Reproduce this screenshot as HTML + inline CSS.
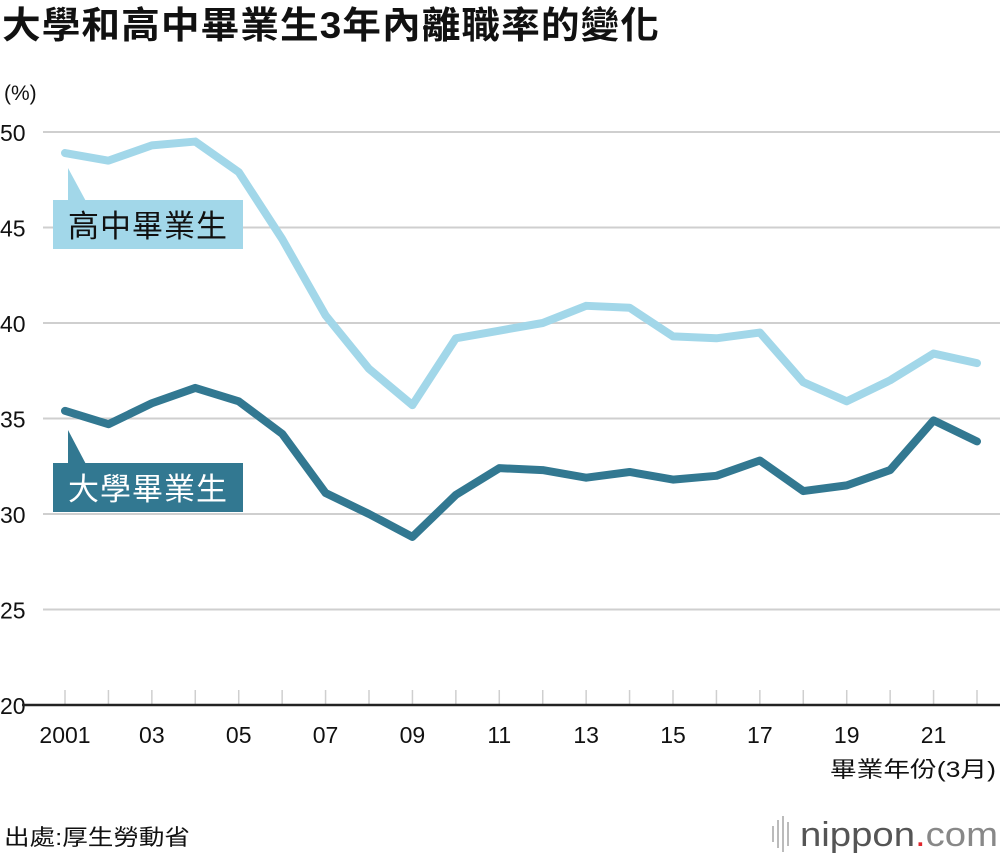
<!DOCTYPE html>
<html><head><meta charset="utf-8">
<style>
body{margin:0;background:#fff;}
svg text{font-family:"Liberation Sans","Noto Sans CJK TC",sans-serif;}
</style></head>
<body>
<svg width="1000" height="856" viewBox="0 0 1000 856" xmlns="http://www.w3.org/2000/svg" id="chart">
<text x="2" y="38" font-size="37" font-weight="bold" fill="#111" letter-spacing="1" textLength="658" lengthAdjust="spacingAndGlyphs">大學和高中畢業生3年內離職率的變化</text>
<text x="4" y="100" font-size="21" fill="#111">(%)</text>
<g id="grid"></g>
<g id="series"></g>
<g id="labels">
<polygon points="68,168 68,205 88,205" fill="#a2d7e9"/>
<rect x="53" y="200" width="190" height="49" fill="#a2d7e9"/>
<text x="68" y="237" font-size="31" fill="#111" letter-spacing="1">高中畢業生</text>
<polygon points="68,430 68,468 88,468" fill="#327891"/>
<rect x="53" y="463" width="190" height="49" fill="#327891"/>
<text x="68" y="500" font-size="31" fill="#fff" letter-spacing="1">大學畢業生</text>
</g>
<text x="996" y="777" font-size="22" fill="#111" text-anchor="end" textLength="166" lengthAdjust="spacingAndGlyphs">畢業年份(3月)</text>
<text x="4" y="845" font-size="22" fill="#111" textLength="186" lengthAdjust="spacingAndGlyphs">出處:厚生勞動省</text>
<g>
<rect x="772" y="826" width="2" height="16" fill="#bbb"/><rect x="777" y="820" width="2" height="28" fill="#bbb"/><rect x="782" y="816" width="2" height="36" fill="#bbb"/><rect x="787" y="822" width="2" height="24" fill="#bbb"/>
<text x="800" y="846" font-size="34" fill="#555" textLength="198" lengthAdjust="spacingAndGlyphs">nippon<tspan fill="#e0262d">.</tspan><tspan fill="#888">com</tspan></text>
</g>
</svg>
<script>
const years=[2001,2002,2003,2004,2005,2006,2007,2008,2009,2010,2011,2012,2013,2014,2015,2016,2017,2018,2019,2020,2021,2022];
const highSchool=[48.9,48.5,49.3,49.5,47.9,44.4,40.4,37.6,35.7,39.2,39.6,40.0,40.9,40.8,39.3,39.2,39.5,36.9,35.9,37.0,38.4,37.9];
const university=[35.4,34.7,35.8,36.6,35.9,34.2,31.1,30.0,28.8,31.0,32.4,32.3,31.9,32.2,31.8,32.0,32.8,31.2,31.5,32.3,34.9,33.8];
const yTicks=[20,25,30,35,40,45,50];
const xTickLabels=["2001","03","05","07","09","11","13","15","17","19","21"];
const NS="http://www.w3.org/2000/svg";
const x=yr=>65+(yr-2001)*(977-65)/21;
const y=v=>705-(v-20)*(705-132)/30;
const grid=document.getElementById('grid');
function mk(tag,attrs,parent){const e=document.createElementNS(NS,tag);for(const k in attrs)e.setAttribute(k,attrs[k]);parent.appendChild(e);return e;}
yTicks.forEach(t=>{
  if(t>20){const l=mk('line',{x1:43,x2:1000,y1:y(t),y2:y(t),stroke:'#cfcfcf','stroke-width':2},grid);
  
  }
  const tx=mk('text',{x:0,y:y(t)+9,'font-size':23,fill:'#111'},grid);
  tx.textContent=t;
  
  
});
years.forEach(yr=>{
  const l=mk('line',{x1:x(yr),x2:x(yr),y1:690,y2:705,stroke:'#cfcfcf','stroke-width':1.5},grid);
  
  
});
const base=mk('line',{x1:22,x2:1000,y1:705,y2:705,stroke:'#222','stroke-width':2.5},grid);


xTickLabels.forEach((lab,i)=>{
  const yr=2001+i*2;
  const tx=mk('text',{x:x(yr),y:743,'font-size':23,fill:'#111','text-anchor':'middle'},grid);
  tx.textContent=lab;
  
  
});
const s=document.getElementById('series');
function line(vals,color,name){
  const p=mk('polyline',{points:vals.map((v,i)=>x(years[i])+','+y(v)).join(' '),fill:'none',stroke:color,'stroke-width':8,'stroke-linejoin':'round','stroke-linecap':'round'},s);
  
  
}
line(highSchool,'#a2d7e9','high-school-line');
line(university,'#327891','university-line');
</script>
</body></html>
